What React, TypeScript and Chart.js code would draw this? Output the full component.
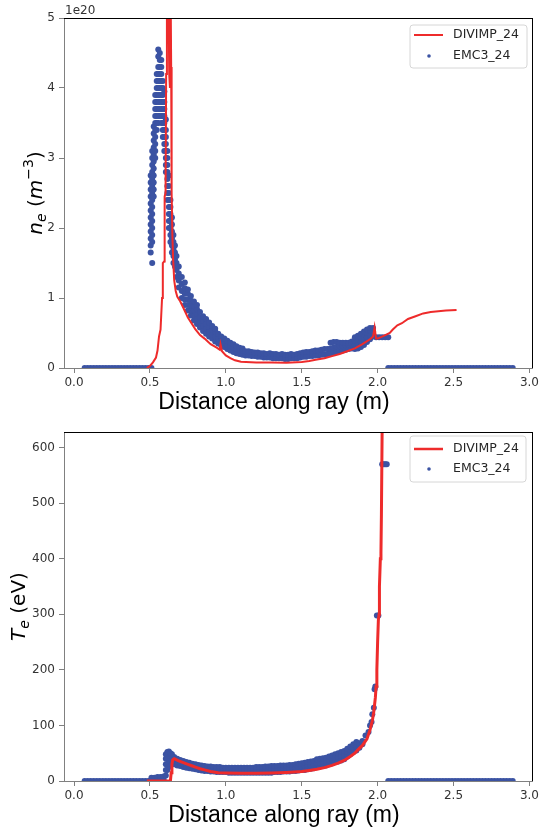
import React, { useEffect, useRef } from "react";
import { Chart, registerables } from "chart.js";

Chart.register(...registerables);

// ---------- shared axis data ----------
const xTickValues = [0, 0.5, 1.0, 1.5, 2.0, 2.5, 3.0];
const neTickValues = [0, 1, 2, 3, 4, 5];
const teTickValues = [0, 100, 200, 300, 400, 500, 600];
const xRange = [-0.066, 3.017];
const neRange = [0, 5];
const teRange = [0, 628];

const seriesNames = ["DIVIMP_24", "EMC3_24"];

// EMC3 points lying on zero (outside the plasma)
const zeroLeftX = [0.07, 0.09, 0.11, 0.13, 0.15, 0.17, 0.19, 0.21, 0.23, 0.25, 0.27, 0.29, 0.31, 0.33, 0.35, 0.37, 0.39, 0.41, 0.43, 0.45, 0.47, 0.49, 0.51];
const zeroRightX = [2.07, 2.09, 2.11, 2.13, 2.15, 2.17, 2.19, 2.21, 2.23, 2.25, 2.27, 2.29, 2.31, 2.33, 2.35, 2.37, 2.39, 2.41, 2.43, 2.45, 2.47, 2.49, 2.51, 2.53, 2.55, 2.57, 2.59, 2.61, 2.63, 2.65, 2.67, 2.69, 2.71, 2.73, 2.75, 2.77, 2.79, 2.81, 2.83, 2.85, 2.87, 2.89];

// ---------- n_e (units of 1e20 m^-3) ----------
const divimpNe: [number, number][] = [
  [0.48, 0], [0.5, 0.03], [0.52, 0.08], [0.54, 0.15], [0.55, 0.25], [0.56, 0.45], [0.57, 0.55], [0.58, 1.0],
  [0.585, 1.5], [0.593, 1.52], [0.597, 2.45], [0.603, 2.5], [0.607, 4.2], [0.612, 5.5], [0.622, 5.5], [0.627, 4.2],
  [0.632, 4.0], [0.636, 5.5], [0.64, 4.3], [0.643, 2.5], [0.648, 1.9], [0.653, 1.55], [0.66, 1.25], [0.67, 1.1],
  [0.68, 1.02], [0.7, 0.95], [0.72, 0.86], [0.75, 0.72], [0.78, 0.62], [0.8, 0.55], [0.83, 0.47], [0.86, 0.42],
  [0.9, 0.34], [0.94, 0.29], [0.96, 0.26], [0.965, 0.34], [0.975, 0.24], [1.0, 0.18], [1.03, 0.14], [1.06, 0.11],
  [1.1, 0.09], [1.2, 0.08], [1.3, 0.08], [1.4, 0.075], [1.5, 0.085], [1.55, 0.1], [1.6, 0.12], [1.65, 0.14],
  [1.7, 0.17], [1.75, 0.2], [1.8, 0.24], [1.85, 0.28], [1.9, 0.34], [1.95, 0.41], [1.97, 0.45], [1.98, 0.58],
  [1.99, 0.42], [2.0, 0.42], [2.04, 0.46], [2.08, 0.5], [2.1, 0.55], [2.13, 0.61], [2.16, 0.64], [2.2, 0.7],
  [2.25, 0.74], [2.3, 0.78], [2.35, 0.8], [2.4, 0.81], [2.45, 0.82], [2.52, 0.83],
];

const emc3NeCols: [number, number[]][] = [
  [0.505, [1.65, 1.75, 1.85, 1.95, 2.05, 2.15, 2.25, 2.35, 2.45, 2.55, 2.65, 2.75]],
  [0.515, [1.5, 1.8, 1.9, 2.0, 2.1, 2.2, 2.3, 2.4, 2.5, 2.6, 2.7, 2.8, 2.9, 3.0, 3.1]],
  [0.525, [2.45, 2.55, 2.65, 2.75, 2.85, 2.95, 3.05, 3.15, 3.25, 3.35, 3.45]],
  [0.535, [3.0, 3.1, 3.2, 3.3, 3.4, 3.5, 3.6, 3.7, 3.8, 3.9]],
  [0.545, [3.4, 3.5, 3.6, 3.7, 3.8, 3.9, 4.0, 4.1, 4.2]],
  [0.555, [3.5, 3.6, 3.7, 3.8, 3.9, 4.0, 4.1, 4.2, 4.3, 4.45, 4.55]],
  [0.565, [3.6, 3.7, 3.8, 3.9, 4.0, 4.1, 4.2, 4.3, 4.4, 4.5]],
  [0.575, [3.5, 3.6, 3.7, 3.8, 3.9, 4.0, 4.1, 4.2, 4.3, 4.4]],
  [0.585, [3.3, 3.4, 3.5, 3.6, 3.7, 3.8, 3.9, 4.0, 4.1]],
  [0.595, [3.1, 3.2, 3.3, 3.4, 3.5, 3.6, 3.7, 3.8, 3.95]],
  [0.605, [2.8, 2.9, 3.0, 3.1, 3.2, 3.3, 3.4, 3.55]],
  [0.615, [2.4, 2.5, 2.6, 2.7, 2.8, 2.9, 3.0, 3.1]],
  [0.625, [2.0, 2.1, 2.2, 2.3, 2.4, 2.5, 2.6, 2.75]],
  [0.635, [1.8, 1.9, 2.0, 2.1, 2.2, 2.3, 2.4]],
  [0.645, [1.65, 1.75, 1.85, 1.95, 2.05, 2.15]],
  [0.655, [1.5, 1.6, 1.7, 1.8, 1.9]],
  [0.665, [1.45, 1.55, 1.65, 1.75]],
  [0.675, [1.3, 1.4, 1.5, 1.6]],
  [0.69, [1.15, 1.25, 1.35, 1.45]],
  [0.71, [1.0, 1.1, 1.2, 1.3]],
  [0.73, [0.9, 0.98, 1.06, 1.14, 1.22]],
  [0.75, [0.82, 0.9, 0.98, 1.06, 1.12]],
  [0.77, [0.75, 0.82, 0.89, 0.96, 1.03]],
  [0.79, [0.68, 0.75, 0.82, 0.89, 0.95]],
  [0.81, [0.63, 0.7, 0.77, 0.84, 0.9]],
  [0.83, [0.58, 0.65, 0.72, 0.8]],
  [0.85, [0.53, 0.6, 0.67, 0.74]],
  [0.87, [0.49, 0.56, 0.63, 0.7]],
  [0.89, [0.45, 0.52, 0.59, 0.65]],
  [0.91, [0.42, 0.48, 0.55, 0.6]],
  [0.93, [0.38, 0.45, 0.52, 0.56]],
  [0.95, [0.35, 0.42, 0.49]],
  [0.97, [0.32, 0.39, 0.45]],
  [0.99, [0.3, 0.36, 0.42]],
  [1.01, [0.27, 0.33, 0.39]],
  [1.03, [0.25, 0.31, 0.36]],
  [1.05, [0.23, 0.29, 0.34]],
  [1.07, [0.21, 0.27, 0.31]],
  [1.09, [0.2, 0.26, 0.29]],
  [1.11, [0.19, 0.25, 0.28]],
  [1.13, [0.18, 0.24]], [1.15, [0.18, 0.24]], [1.17, [0.17, 0.23]], [1.19, [0.17, 0.22]],
  [1.21, [0.16, 0.22]], [1.23, [0.16, 0.21]], [1.25, [0.15, 0.21]], [1.27, [0.15, 0.2]],
  [1.29, [0.15, 0.21]], [1.31, [0.14, 0.2]], [1.33, [0.14, 0.2]], [1.35, [0.14, 0.19]],
  [1.37, [0.14, 0.2]], [1.39, [0.13, 0.19]], [1.41, [0.13, 0.19]], [1.43, [0.14, 0.2]],
  [1.45, [0.14, 0.19]], [1.47, [0.14, 0.2]], [1.49, [0.15, 0.21]], [1.51, [0.16, 0.22]],
  [1.53, [0.16, 0.23]], [1.55, [0.17, 0.23]], [1.57, [0.17, 0.24]], [1.59, [0.18, 0.25]],
  [1.61, [0.18, 0.25]], [1.63, [0.19, 0.26]], [1.65, [0.19, 0.27]], [1.67, [0.2, 0.27]],
  [1.69, [0.21, 0.28, 0.36]], [1.71, [0.22, 0.29, 0.37]], [1.73, [0.23, 0.3, 0.37]], [1.75, [0.24, 0.31, 0.36]],
  [1.77, [0.25, 0.31, 0.36]], [1.79, [0.26, 0.32, 0.36]], [1.81, [0.27, 0.33, 0.36]], [1.83, [0.28, 0.34, 0.38]],
  [1.85, [0.27, 0.33, 0.39, 0.44]], [1.87, [0.28, 0.34, 0.4, 0.46]], [1.89, [0.3, 0.37, 0.44, 0.49]],
  [1.91, [0.33, 0.4, 0.47, 0.52]], [1.93, [0.37, 0.44, 0.5, 0.55]], [1.95, [0.41, 0.48, 0.54, 0.57]],
  [1.97, [0.45, 0.52, 0.57]],
  [1.99, [0.44]], [2.01, [0.44]], [2.03, [0.44]], [2.05, [0.44]], [2.07, [0.44]],
];

// ---------- T_e (eV) ----------
const divimpTe: [number, number][] = [
  [0.48, 0], [0.62, 0], [0.635, 0], [0.64, 15], [0.645, 30], [0.65, 38], [0.66, 40], [0.67, 39], [0.69, 36],
  [0.72, 33], [0.75, 30], [0.78, 27], [0.8, 25], [0.83, 22], [0.86, 20], [0.9, 17], [0.95, 15], [1.0, 14.5],
  [1.1, 14], [1.2, 14], [1.3, 14.5], [1.4, 15.5], [1.5, 17], [1.55, 19], [1.6, 21], [1.65, 24], [1.7, 28],
  [1.74, 32], [1.78, 37], [1.82, 44], [1.85, 50], [1.87, 56], [1.9, 64], [1.93, 76], [1.95, 92], [1.965, 108],
  [1.975, 125], [1.985, 150], [1.99, 170], [1.995, 200], [2.0, 250], [2.005, 290], [2.01, 300], [2.012, 350],
  [2.018, 400], [2.022, 410], [2.025, 480], [2.03, 640],
];

const emc3TeCols: [number, number[]][] = [
  [0.51, [2, 6]], [0.53, [2, 6]], [0.55, [2, 7]], [0.57, [3, 7]], [0.59, [3, 8]],
  [0.605, [10, 20, 30, 40, 48]],
  [0.615, [20, 30, 40, 48, 52]],
  [0.625, [25, 33, 41, 49, 53]],
  [0.635, [28, 36, 44, 50]],
  [0.645, [30, 37, 44, 48]],
  [0.66, [30, 37, 43]],
  [0.68, [28, 34, 40]],
  [0.7, [27, 33, 38]],
  [0.72, [25, 31, 36]],
  [0.74, [24, 30, 34]],
  [0.76, [23, 28, 33]],
  [0.78, [22, 27, 31]],
  [0.8, [21, 26, 30]],
  [0.82, [20, 25, 29]], [0.84, [19, 24, 28]], [0.86, [18, 23, 27]], [0.88, [18, 23, 26]],
  [0.9, [17, 22, 26]], [0.92, [17, 22, 25]], [0.94, [16, 21, 25]], [0.96, [16, 21, 25]],
  [0.98, [16, 21, 24]], [1.0, [16, 21, 24]], [1.02, [15, 20, 24]], [1.04, [15, 20, 24]],
  [1.06, [15, 20, 24]], [1.08, [15, 20, 24]], [1.1, [15, 20, 24]], [1.12, [15, 20, 24]],
  [1.14, [15, 20, 24]], [1.16, [15, 20, 24]], [1.18, [15, 20, 24]], [1.2, [15, 20, 25]],
  [1.22, [15, 20, 25]], [1.24, [15, 21, 25]], [1.26, [15, 21, 26]], [1.28, [15, 21, 26]],
  [1.3, [15, 21, 27]], [1.32, [16, 22, 27]], [1.34, [16, 22, 27]], [1.36, [16, 22, 28]],
  [1.38, [17, 23, 28]], [1.4, [17, 23, 28]], [1.42, [17, 23, 29]], [1.44, [18, 24, 29]],
  [1.46, [18, 24, 30]], [1.48, [19, 25, 31]], [1.5, [20, 26, 32]], [1.52, [20, 27, 33]],
  [1.54, [21, 27, 34]], [1.56, [22, 28, 35]], [1.58, [23, 29, 36]], [1.6, [25, 32, 39]],
  [1.62, [26, 33, 40]], [1.64, [27, 34, 41]], [1.66, [28, 35, 42]], [1.68, [30, 37, 44]],
  [1.7, [32, 39, 46]], [1.72, [34, 41, 48]], [1.74, [35, 43, 50]], [1.76, [37, 45, 52]],
  [1.78, [39, 47, 54]], [1.8, [44, 52, 58]], [1.82, [48, 56, 62]], [1.84, [52, 60, 66]],
  [1.86, [55, 62, 70]], [1.88, [60, 68]], [1.9, [66, 72]],
  [1.92, [82]], [1.94, [88]], [1.95, [100]], [1.96, [106]], [1.965, [120]], [1.975, [132]],
  [1.98, [165]], [1.985, [170]], [1.995, [298]], [2.005, [298]],
  [2.03, [570]], [2.04, [570]], [2.05, [570]], [2.06, [570]],
];

// ---------- styling ----------
const RED = "rgb(238,43,43)";
const BLUE = "rgb(59,83,163)";
const AXIS_GREY = "#808080";
const TICK_TEXT = "#333333";

type Seg = { text: string; italic?: boolean; size: number; dy?: number };

const neTitle: Seg[] = [
  { text: "n", italic: true, size: 20 },
  { text: "e", italic: true, size: 14, dy: 4 },
  { text: " (", size: 20 },
  { text: "m", italic: true, size: 20 },
  { text: "\u22123", size: 14, dy: -9 },
  { text: ")", size: 20 },
];
const teTitle: Seg[] = [
  { text: "T", italic: true, size: 20 },
  { text: "e", italic: true, size: 14, dy: 4 },
  { text: " (eV)", size: 20 },
];

type Decor = {
  yTitle: Seg[];
  yTitleX: number;
  yTitleCY: number;
  xTitleCX: number;
  xTitleY: number;
  offsetText?: string;
  legend: { x: number; y: number; w: number; h: number; row1: number; row2: number; lineW: number };
};

function makeDecor(d: Decor) {
  return {
    id: "decor",
    afterDraw(chart: any) {
      const ctx: CanvasRenderingContext2D = chart.ctx;
      const a = chart.chartArea;
      ctx.save();
      // top & right spines
      ctx.strokeStyle = "#000";
      ctx.lineWidth = 1;
      ctx.beginPath();
      ctx.moveTo(Math.round(a.left), Math.round(a.top) + 0.5);
      ctx.lineTo(Math.round(a.right) + 1, Math.round(a.top) + 0.5);
      ctx.moveTo(Math.round(a.right) + 0.5, Math.round(a.top));
      ctx.lineTo(Math.round(a.right) + 0.5, Math.round(a.bottom));
      ctx.stroke();

      // x title
      ctx.fillStyle = "#000";
      ctx.font = '23px "Liberation Sans", Arial, sans-serif';
      ctx.textAlign = "center";
      ctx.textBaseline = "alphabetic";
      ctx.fillText("Distance along ray (m)", d.xTitleCX, d.xTitleY);

      // y title (rotated, rich)
      const fontOf = (s: Seg) => `${s.italic ? "italic " : ""}${s.size}px "DejaVu Sans", sans-serif`;
      let total = 0;
      for (const s of d.yTitle) {
        ctx.font = fontOf(s);
        total += ctx.measureText(s.text).width;
      }
      ctx.save();
      ctx.translate(d.yTitleX, d.yTitleCY);
      ctx.rotate(-Math.PI / 2);
      ctx.textAlign = "left";
      let cx = -total / 2;
      for (const s of d.yTitle) {
        ctx.font = fontOf(s);
        ctx.fillText(s.text, cx, s.dy || 0);
        cx += ctx.measureText(s.text).width;
      }
      ctx.restore();

      // offset text
      if (d.offsetText) {
        ctx.fillStyle = TICK_TEXT;
        ctx.font = '12px "DejaVu Sans", sans-serif';
        ctx.textAlign = "left";
        ctx.fillText(d.offsetText, a.left + 1, a.top - 4.5);
      }

      // legend
      const L = d.legend;
      ctx.beginPath();
      const r = 3;
      ctx.moveTo(L.x + r, L.y);
      ctx.lineTo(L.x + L.w - r, L.y);
      ctx.arcTo(L.x + L.w, L.y, L.x + L.w, L.y + r, r);
      ctx.lineTo(L.x + L.w, L.y + L.h - r);
      ctx.arcTo(L.x + L.w, L.y + L.h, L.x + L.w - r, L.y + L.h, r);
      ctx.lineTo(L.x + r, L.y + L.h);
      ctx.arcTo(L.x, L.y + L.h, L.x, L.y + L.h - r, r);
      ctx.lineTo(L.x, L.y + r);
      ctx.arcTo(L.x, L.y, L.x + r, L.y, r);
      ctx.closePath();
      ctx.fillStyle = "rgba(255,255,255,0.8)";
      ctx.fill();
      ctx.strokeStyle = "#d6d6d6";
      ctx.lineWidth = 1;
      ctx.stroke();

      ctx.strokeStyle = RED;
      ctx.lineWidth = L.lineW;
      ctx.beginPath();
      ctx.moveTo(L.x + 4, L.row1);
      ctx.lineTo(L.x + 33, L.row1);
      ctx.stroke();

      ctx.fillStyle = BLUE;
      ctx.beginPath();
      ctx.arc(L.x + 19, L.row2, 1.8, 0, Math.PI * 2);
      ctx.fill();

      ctx.fillStyle = "#262626";
      ctx.font = '12.5px "DejaVu Sans", sans-serif';
      ctx.textAlign = "left";
      ctx.textBaseline = "middle";
      ctx.fillText(seriesNames[0], L.x + 43, L.row1);
      ctx.fillText(seriesNames[1], L.x + 43, L.row2);
      ctx.restore();
    },
  };
}

function makeConfig(opts: {
  line: [number, number][];
  cols: [number, number[]][];
  yRange: number[];
  yTicks: number[];
  xAxisHeight: number;
  padTop: number;
  lineWidth: number;
  decor: Decor;
}) {
  const scatterPts = [
    ...zeroLeftX.map((x) => ({ x, y: 0 })),
    ...opts.cols.flatMap(([x, ys]) => ys.map((y) => ({ x, y }))),
    ...zeroRightX.map((x) => ({ x, y: 0 })),
  ];
  const tickFont = { family: '"DejaVu Sans", sans-serif', size: 12 };
  return {
    type: "scatter" as const,
    data: {
      datasets: [
        {
          label: seriesNames[0],
          data: opts.line.map(([x, y]) => ({ x, y })),
          showLine: true,
          borderColor: RED,
          borderWidth: opts.lineWidth,
          pointRadius: 0,
          pointHoverRadius: 0,
          tension: 0,
          clip: 0,
        },
        {
          label: seriesNames[1],
          data: scatterPts,
          showLine: false,
          pointRadius: 3,
          pointHoverRadius: 3,
          pointBorderWidth: 0,
          pointBackgroundColor: BLUE,
          backgroundColor: BLUE,
          borderColor: BLUE,
          clip: 0,
        },
      ],
    },
    options: {
      animation: false as const,
      responsive: false,
      events: [],
      layout: { padding: { top: opts.padTop, right: 8, left: 0, bottom: 0 } },
      plugins: { legend: { display: false }, tooltip: { enabled: false } },
      scales: {
        x: {
          type: "linear" as const,
          min: xRange[0],
          max: xRange[1],
          afterBuildTicks: (axis: any) => {
            axis.ticks = xTickValues.map((v) => ({ value: v }));
          },
          afterFit: (s: any) => {
            s.height = opts.xAxisHeight;
            s.paddingLeft = 0;
            s.paddingRight = 0;
          },
          ticks: {
            callback: (v: any) => Number(v).toFixed(1),
            font: tickFont,
            color: TICK_TEXT,
            padding: 3,
            maxRotation: 0,
            autoSkip: false,
          },
          grid: { drawOnChartArea: false, drawTicks: true, tickLength: 5, tickColor: AXIS_GREY, tickWidth: 1 },
          border: { display: true, color: AXIS_GREY, width: 1 },
        },
        y: {
          type: "linear" as const,
          min: opts.yRange[0],
          max: opts.yRange[1],
          afterBuildTicks: (axis: any) => {
            axis.ticks = opts.yTicks.map((v) => ({ value: v }));
          },
          afterFit: (s: any) => {
            s.width = 64;
            s.paddingTop = 0;
            s.paddingBottom = 0;
          },
          ticks: {
            callback: (v: any) => String(v),
            font: tickFont,
            color: TICK_TEXT,
            padding: 4,
            autoSkip: false,
          },
          grid: { drawOnChartArea: false, drawTicks: true, tickLength: 5, tickColor: AXIS_GREY, tickWidth: 1 },
          border: { display: true, color: AXIS_GREY, width: 1 },
        },
      },
    },
    plugins: [makeDecor(opts.decor)],
  };
}

export default function App() {
  const topRef = useRef<HTMLCanvasElement>(null);
  const botRef = useRef<HTMLCanvasElement>(null);

  useEffect(() => {
    document.body.style.margin = "0";
    const c1 = new Chart(
      topRef.current!,
      makeConfig({
        line: divimpNe,
        cols: emc3NeCols,
        yRange: neRange,
        yTicks: neTickValues,
        xAxisHeight: 48,
        padTop: 18,
        lineWidth: 2,
        decor: {
          yTitle: neTitle,
          yTitleX: 42,
          yTitleCY: 193,
          xTitleCX: 274,
          xTitleY: 409,
          offsetText: "1e20",
          legend: { x: 410, y: 25, w: 117, h: 43, row1: 35, row2: 56, lineW: 2 },
        },
      }) as any
    );
    const c2 = new Chart(
      botRef.current!,
      makeConfig({
        line: divimpTe,
        cols: emc3TeCols,
        yRange: teRange,
        yTicks: teTickValues,
        xAxisHeight: 52,
        padTop: 16,
        lineWidth: 3,
        decor: {
          yTitle: teTitle,
          yTitleX: 25,
          yTitleCY: 190.5,
          xTitleCX: 284,
          xTitleY: 405.5,
          legend: { x: 410, y: 20, w: 116, h: 46, row1: 33, row2: 53, lineW: 2.5 },
        },
      }) as any
    );
    return () => {
      c1.destroy();
      c2.destroy();
    };
  }, []);

  return (
    <div style={{ width: 540, height: 833, background: "#fff" }}>
      <canvas ref={topRef} width={540} height={416} style={{ display: "block" }} />
      <canvas ref={botRef} width={540} height={417} style={{ display: "block" }} />
    </div>
  );
}
